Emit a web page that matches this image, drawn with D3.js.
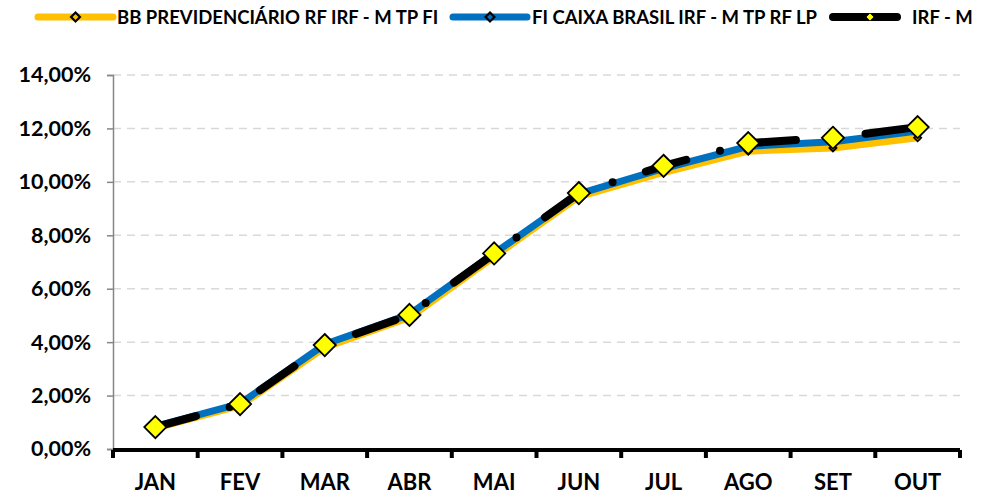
<!DOCTYPE html>
<html>
<head>
<meta charset="utf-8">
<script src="https://cdn.jsdelivr.net/npm/d3@7"></script>
<style>
  body { margin: 0; background: #fff; }
  svg text { font-family: Lato, "Open Sans", sans-serif; font-weight: 700; fill: #000; }
</style>
</head>
<body>
<div id="chart"></div>
<script>
const months = ["JAN", "FEV", "MAR", "ABR", "MAI", "JUN", "JUL", "AGO", "SET", "OUT"];
const bbValues = [0.78, 1.62, 3.80, 4.92, 7.20, 9.45, 10.35, 11.15, 11.27, 11.65];
const caixaValues = [0.85, 1.70, 3.92, 5.04, 7.32, 9.55, 10.50, 11.33, 11.50, 11.90];
const irfmValues = [0.82, 1.68, 3.89, 5.02, 7.32, 9.58, 10.60, 11.45, 11.65, 12.05];
const yTicks = [0, 2, 4, 6, 8, 10, 12, 14];

const series = [
  { name: "BB PREVIDENCIÁRIO RF IRF - M TP FI", values: bbValues, color: "#FFC000", width: 7, marker: 8, markerFill: "#FFC000" },
  { name: "FI CAIXA BRASIL IRF - M TP RF LP", values: caixaValues, color: "#0070C0", width: 7, marker: 8, markerFill: "#0070C0" },
  { name: "IRF - M", values: irfmValues, color: "#000000", width: 8, marker: 25, markerFill: "#FFFF00", dash: "42,35,0,35" }
];

const W = 994, H = 497;
const margin = { top: 75, right: 34, bottom: 48, left: 113 };
const width = W - margin.left - margin.right,
  height = H - margin.top - margin.bottom;

const svg = d3.select("#chart").append("svg").attr("width", W).attr("height", H);
const g = svg.append("g").attr("transform", "translate(" + margin.left + "," + margin.top + ")");

const x = d3.scaleBand().domain(months).range([0, width]);
const y = d3.scaleLinear().domain([0, 14]).range([height, 0]);

// gridlines
g.selectAll(".grid").data(yTicks.filter(d => d > 0)).enter().append("line")
  .attr("x1", 0).attr("x2", width)
  .attr("y1", d => y(d)).attr("y2", d => y(d))
  .attr("stroke", "#D9D9D9").attr("stroke-width", 1.5).attr("stroke-dasharray", "8,6");

// y axis
const yAxis = g.append("g").call(d3.axisLeft(y).tickValues(yTicks).tickSize(6).tickPadding(16)
  .tickFormat(d => d3.format(".2f")(d).replace(".", ",") + "%"));
yAxis.select(".domain").attr("stroke", "#868686").attr("stroke-width", 1.5);
yAxis.selectAll(".tick line").attr("stroke", "#868686").attr("stroke-width", 1.5);
yAxis.selectAll("text").style("font-size", "21.5px").style("font-family", "Lato, sans-serif").style("font-weight", 700);

// lines
const diamond = d3.symbol().type(d3.symbolDiamond2);
series.forEach(s => {
  const line = d3.line().x((d, i) => x(months[i]) + x.bandwidth() / 2).y(d => y(d));
  g.append("path").datum(s.values)
    .attr("d", line).attr("fill", "none")
    .attr("stroke", s.color).attr("stroke-width", s.width)
    .attr("stroke-linecap", "round").attr("stroke-linejoin", "round")
    .attr("stroke-dasharray", s.dash || null);
});
series.forEach(s => {
  g.selectAll(null).data(s.values).enter().append("path")
    .attr("d", diamond.size(s.marker * s.marker / 2)())
    .attr("transform", (d, i) => "translate(" + (x(months[i]) + x.bandwidth() / 2) + "," + y(d) + ")")
    .attr("fill", s.markerFill).attr("stroke", "#000").attr("stroke-width", 1.8);
});

// x axis
const xAxis = g.append("g").attr("transform", "translate(0," + height + ")");
xAxis.append("line").attr("x1", 0).attr("x2", width).attr("y1", 1).attr("y2", 1)
  .attr("stroke", "#000").attr("stroke-width", 4);
const bounds = months.map(m => x(m)).concat([width]);
xAxis.selectAll(".xt").data(bounds).enter().append("line")
  .attr("x1", d => d).attr("x2", d => d).attr("y1", 1).attr("y2", 9)
  .attr("stroke", "#000").attr("stroke-width", 4);
xAxis.selectAll(".xl").data(months).enter().append("text")
  .attr("x", d => x(d) + x.bandwidth() / 2).attr("y", 41)
  .attr("text-anchor", "middle").style("font-size", "22px").text(d => d);

// legend
const legendPos = [{ x1: 38, x2: 113, tx: 117 }, { x1: 453, x2: 527, tx: 532 }, { x1: 833, x2: 897, tx: 912 }];
const legend = svg.append("g");
series.forEach((s, i) => {
  const p = legendPos[i];
  const ly = 17;
  legend.append("line").attr("x1", p.x1).attr("x2", p.x2).attr("y1", ly).attr("y2", ly)
    .attr("stroke", s.color).attr("stroke-width", s.width).attr("stroke-linecap", "round");
  const mx = i == 2 ? 870 : (p.x1 + p.x2) / 2;
  legend.append("path").attr("d", diamond.size(i == 2 ? 40 : 50)())
    .attr("transform", "translate(" + mx + "," + ly + ")")
    .attr("fill", s.markerFill).attr("stroke", "#000").attr("stroke-width", i == 2 ? 0.8 : 2.2);
  legend.append("text").attr("x", p.tx).attr("y", ly + 6.5).style("font-size", "18.5px").text(s.name);
});
</script>
</body>
</html>
